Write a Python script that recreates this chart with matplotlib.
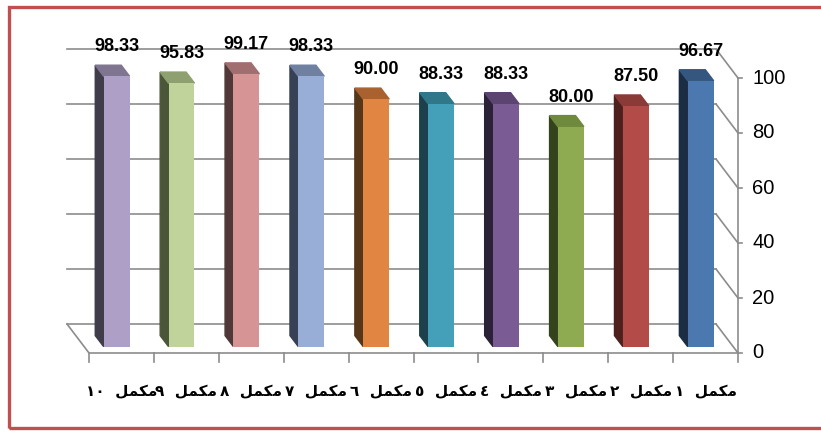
import matplotlib
matplotlib.use('Agg')
import matplotlib.pyplot as plt
from matplotlib.patches import Polygon, Rectangle

# data, مكمل ١ .. مكمل ١٠ (drawn right to left)
categories = ['مكمل ١', 'مكمل ٢', 'مكمل ٣', 'مكمل ٤', 'مكمل ٥',
              'مكمل ٦', 'مكمل ٧', 'مكمل ٨', 'مكمل ٩', 'مكمل ١٠']
values = [96.67, 87.50, 80.00, 88.33, 88.33, 90.00, 98.33, 99.17, 95.83, 98.33]
front_colors = ['#4a78af', '#b34c48', '#8fab52', '#7b5b94', '#44a0b8',
                '#e08642', '#98aed6', '#d69494', '#c0d39a', '#ad9fc6']
side_colors = ['#1b2d45', '#4d1f1d', '#34431c', '#2c2238', '#1d414c',
               '#553618', '#374155', '#503838', '#4b5638', '#403c4a']
top_colors = ['#35577f', '#8a3a37', '#6f8a3c', '#5b4470', '#2f7789',
              '#a9622f', '#6f80a0', '#a06e6e', '#8ea06f', '#7f7590']
yticks = [0, 20, 40, 60, 80, 100]

NUM_FONT = ['Liberation Sans', 'DejaVu Sans']

# tiny arabic shaper (matplotlib has no bidi / joining)
FORMS = {'م': '\uFEE1\uFEE2\uFEE3\uFEE4',
         'ك': '\uFED9\uFEDA\uFEDB\uFEDC',
         'ل': '\uFEDD\uFEDE\uFEDF\uFEE0'}


def shape_word(w):
    if not any(ch in FORMS for ch in w):
        return w
    out = []
    for k, ch in enumerate(w):
        prev, nxt = k > 0, k < len(w) - 1
        idx = 3 if (prev and nxt) else 1 if prev else 2 if nxt else 0
        out.append(FORMS[ch][idx])
    return ''.join(reversed(out))


def rtl(text):
    return '  '.join(shape_word(t) for t in reversed(text.split(' ')))


fig = plt.figure(figsize=(8.21, 4.32), dpi=100)
ax = fig.add_axes([0, 0, 1, 1])
ax.set_xlim(-89 / 64.9, (821 - 89) / 64.9)
ax.set_ylim(-(432 - 353) / 2.75, 353 / 2.75)
ax.axis('off')

n = len(values)
dxf, dyf = -22 / 64.9, 29 / 2.75   # depth of the 3d box, in data units
f0, f1 = 0.22, 0.60                 # bar front / back depth
w = 0.40
grid = '#8c8c8c'

# back wall grid + right side diagonals + front axis
for v in yticks:
    ax.plot([dxf, n + dxf], [v + dyf, v + dyf], color=grid, lw=1.2, zorder=1)
    ax.plot([n + dxf, n], [v + dyf, v], color=grid, lw=1.2, zorder=1)
    ax.plot([n, n + 0.06], [v, v], color=grid, lw=1.2, zorder=1)
    ax.text(n + 0.22, v, str(v), ha='left', va='center', fontsize=14.5,
            family=NUM_FONT)
ax.plot([n, n], [0, yticks[-1]], color=grid, lw=1.2, zorder=1)

# floor
ax.plot([dxf, 0, n], [dyf, 0, 0], color=grid, lw=1.2, zorder=1)
for k in range(n + 1):
    ax.plot([k, k], [0, -3.2], color=grid, lw=1.2, zorder=1)

for i, (lab, v) in enumerate(zip(categories, values)):
    c = (n - 1 - i) + 0.5
    x0 = c + f0 * dxf
    y0 = f0 * dyf
    x1 = c + f1 * dxf
    y1 = f1 * dyf
    ax.bar(x0, v, width=w, bottom=y0, color=front_colors[i], zorder=4)
    side = [(x0 - w / 2, y0), (x0 - w / 2, v + y0),
            (x1 - w / 2, v + y1), (x1 - w / 2, y1)]
    top = [(x0 - w / 2, v + y0), (x0 + w / 2, v + y0),
           (x1 + w / 2, v + y1), (x1 - w / 2, v + y1)]
    ax.add_patch(Polygon(side, closed=True, color=side_colors[i], zorder=3))
    ax.add_patch(Polygon(top, closed=True, color=top_colors[i], zorder=3))
    ax.annotate('%.2f' % v, (x0, v + y0), xytext=(0, 18),
                textcoords='offset points', ha='center', va='baseline',
                fontsize=13, fontweight='bold', family=NUM_FONT, zorder=5)
    ax.text(c, -14.2, rtl(lab), ha='center', va='center', fontsize=11,
            fontweight='bold', family=['DejaVu Sans'])

# red frame
fig.patches.append(Rectangle((8.5 / 821, 4 / 432), 1.0, 1 - 11 / 432,
                             transform=fig.transFigure, fill=False,
                             edgecolor='#c0504d', lw=2.4))

plt.savefig('out.png', dpi=100)
